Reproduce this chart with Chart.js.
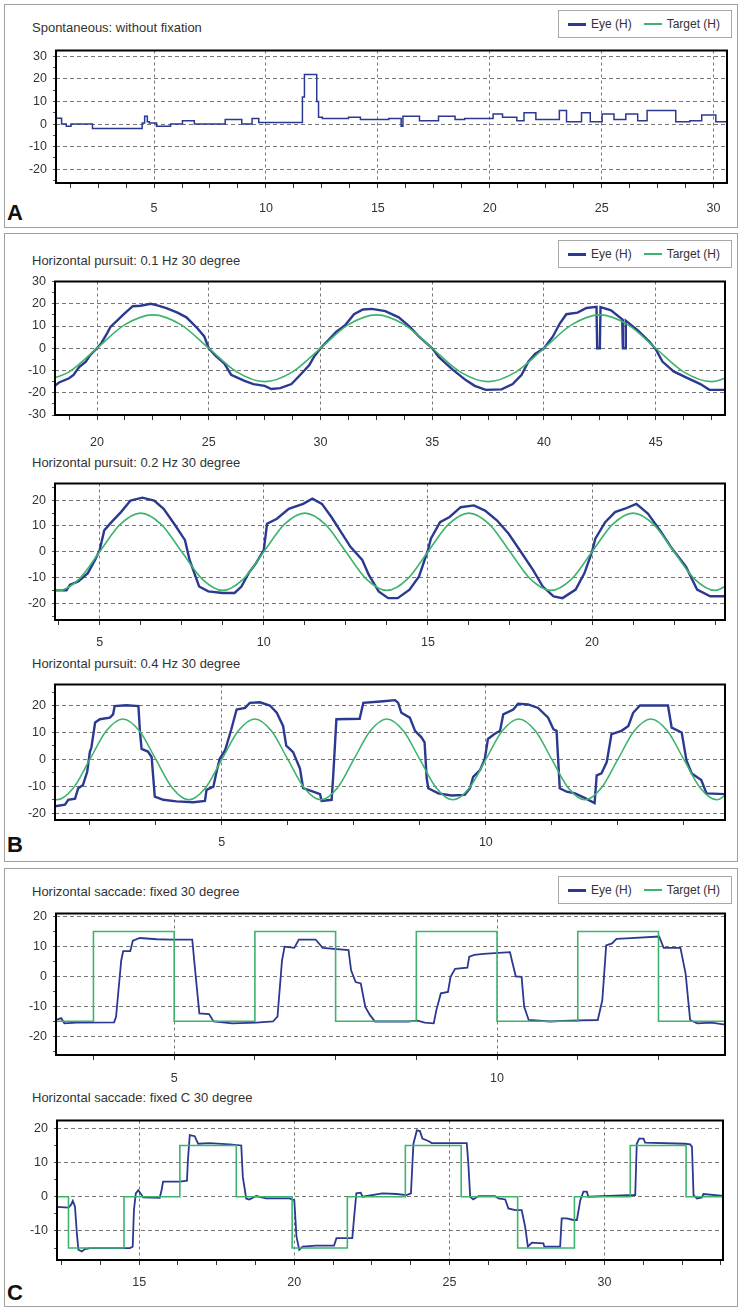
<!DOCTYPE html>
<html>
<head>
<meta charset="utf-8">
<script src="https://cdn.jsdelivr.net/npm/chart.js@4.4.1/dist/chart.umd.min.js"></script>
<style>
  body { margin: 0; width: 742px; height: 1309px; position: relative; background: #fff;
         font-family: "Liberation Sans", Arial, sans-serif; color: #333; overflow: hidden; }
  .panel { position: absolute; left: 4px; width: 732px; border: 1px solid #a0a0a0; }
  .title { position: absolute; left: 32px; font-size: 13px; line-height: 14px; color: #333; }
  .legend { position: absolute; left: 558px; width: 172px; height: 26px; border: 1px solid #a8a8a8;
            font-size: 12px; display: flex; align-items: center; background: #fff; color: #333; }
  .sw { display: inline-block; width: 18px; margin: 0 5px 0 9px; }
  .eye { height: 3px; background: #2b3990; }
  .tgt { height: 2px; background: #3db36d; margin-left: 12px; }
  .letter { position: absolute; left: 7px; font: bold 22px "Liberation Sans", Arial, sans-serif; color: #111; line-height: 24px; }
  canvas { position: absolute; left: 0; }
</style>
</head>
<body>
<div class="panel" style="top:4px;height:222px"></div>
<div class="panel" style="top:233px;height:627px"></div>
<div class="panel" style="top:868px;height:437px"></div>

<div class="title" style="top:21px">Spontaneous: without fixation</div>
<div class="title" style="top:254px">Horizontal pursuit: 0.1 Hz 30 degree</div>
<div class="title" style="top:456px">Horizontal pursuit: 0.2 Hz 30 degree</div>
<div class="title" style="top:657px">Horizontal pursuit: 0.4 Hz 30 degree</div>
<div class="title" style="top:885px">Horizontal saccade: fixed 30 degree</div>
<div class="title" style="top:1091px">Horizontal saccade: fixed C 30 degree</div>

<div class="legend" style="top:10px"><span class="sw eye"></span>Eye (H)<span class="sw tgt"></span>Target (H)</div>
<div class="legend" style="top:240px"><span class="sw eye"></span>Eye (H)<span class="sw tgt"></span>Target (H)</div>
<div class="legend" style="top:876px"><span class="sw eye"></span>Eye (H)<span class="sw tgt"></span>Target (H)</div>

<div class="letter" style="top:201px">A</div>
<div class="letter" style="top:833px">B</div>
<div class="letter" style="top:1281px">C</div>

<script>
// x tick labels per chart
const xLabelsA = [5, 10, 15, 20, 25, 30];
const xLabelsB1 = [20, 25, 30, 35, 40, 45];
const xLabelsB2 = [5, 10, 15, 20];
const xLabelsB3 = [5, 10];
const xLabelsC1 = [5, 10];
const xLabelsC2 = [15, 20, 25, 30];

// y tick labels per chart
const yLabelsA = [-20, -10, 0, 10, 20, 30];
const yLabelsB1 = [-30, -20, -10, 0, 10, 20, 30];
const yLabelsB2 = [-20, -10, 0, 10, 20];
const yLabelsB3 = [-20, -10, 0, 10, 20];
const yLabelsC1 = [-20, -10, 0, 10, 20];
const yLabelsC2 = [-10, 0, 10, 20];

// A: spontaneous, eye position (level starts, stepped)
const spontEye = [
  [0.61, 2.6], [0.87, 0], [1.08, -1], [1.29, 0], [2.25, -2], [4.47, 0.5], [4.58, 3.5], [4.7, 1],
  [4.79, 0.5], [5.11, -1], [5.74, 0], [6.27, 1.5], [6.8, 0], [8.18, 2], [8.92, 0], [9.38, 2.5],
  [9.68, 0.7], [11.63, 12], [11.72, 22], [12.27, 10], [12.35, 3], [12.52, 2.5], [13.69, 3],
  [14.22, 2], [15.49, 2.5], [16.04, -1], [16.12, 3.5], [16.86, 1.5], [17.71, 3.5], [18.45, 2],
  [18.88, 2.5], [20.15, 4.5], [20.57, 3], [21.21, 1.5], [21.53, 5], [22.06, 2], [23.11, 6],
  [23.43, 1], [24.1, 5], [24.49, 1], [25.02, 4.5], [25.55, 2], [26.08, 4.5], [26.61, 1.5],
  [27.03, 6], [28.31, 1], [28.94, 1.5], [29.47, 4], [30.1, 1], [30.63, 1]
];

// B1: pursuit 0.1 Hz
const pursuit1Eye = [
  [18.1, -17], [18.3, -15.4], [18.75, -13.5], [18.95, -12], [19.2, -8.5], [19.5, -6], [19.7, -3],
  [20, 0], [20.2, 2.4], [20.45, 6.7], [20.6, 9.6], [20.9, 12.4], [21.2, 15.3], [21.6, 18.9],
  [21.95, 19.1], [22.4, 20], [22.7, 19.3], [23.1, 18], [23.6, 16], [24.0, 13.9], [24.5, 8.9],
  [24.8, 5.3], [25.0, 0], [25.3, -3.3], [25.7, -6.9], [26.0, -11.9], [26.6, -14.7], [27.0, -16.1],
  [27.5, -16.9], [27.8, -18.3], [28.2, -17.9], [28.7, -16.1], [29.1, -11.9], [29.5, -7.6],
  [29.7, -4], [30.0, 0], [30.3, 3.1], [30.7, 7.4], [31.1, 10.3], [31.5, 15.3], [31.9, 17.4],
  [32.3, 17.7], [32.9, 16.7], [33.5, 13.9], [34.0, 9.6], [34.4, 5.3], [35, 0], [35.3, -4],
  [35.9, -9.5], [36.5, -14.3], [36.9, -16.9], [37.4, -18.7], [38.1, -18.5], [38.6, -16.1],
  [39.0, -11.9], [39.3, -6], [39.6, -2.6], [40, 0], [40.4, 5.3], [40.7, 11], [41.0, 15.3],
  [41.5, 16], [41.9, 18.1], [42.35, 18.6], [42.38, 0], [42.5, 0], [42.53, 18.5], [43.0, 17],
  [43.5, 13], [43.53, 0], [43.63, 0], [43.66, 12.4], [44.2, 8], [44.7, 3.1], [45.0, -0.4],
  [45.3, -6], [45.8, -10.4], [46.4, -13.3], [47.0, -16.1], [47.4, -18.7], [48.1, -18.7]
];
const pursuit1Target = [
  [17.5, -15], [18.75, -10.6], [20, 0], [21.25, 10.6], [22.5, 15], [23.75, 10.6], [25, 0],
  [26.25, -10.6], [27.5, -15], [28.75, -10.6], [30, 0], [31.25, 10.6], [32.5, 15], [33.75, 10.6],
  [35, 0], [36.25, -10.6], [37.5, -15], [38.75, -10.6], [40, 0], [41.25, 10.6], [42.5, 15],
  [43.75, 10.6], [45, 0], [46.25, -10.6], [47.5, -15], [48.75, -10.6]
];

// B2: pursuit 0.2 Hz
const pursuit2Eye = [
  [3.6, -15], [3.99, -15], [4.1, -12.8], [4.35, -11.5], [4.64, -8.3], [4.86, -3.2], [5.0, 0.6],
  [5.14, 8.3], [5.36, 11.5], [5.65, 15.4], [5.94, 19.9], [6.3, 21], [6.66, 19.9], [6.95, 16.7],
  [7.3, 10.3], [7.6, 4.5], [7.74, -3.2], [8.03, -13.5], [8.31, -15.4], [8.75, -16], [9.11, -16],
  [9.32, -13.5], [9.54, -8.3], [9.76, -4.5], [10.0, 0.6], [10.1, 10.9], [10.4, 12.8],
  [10.76, 16.7], [11.2, 18.6], [11.48, 20.6], [11.77, 18.6], [12.06, 13.5], [12.35, 7.7],
  [12.64, 1.9], [13.0, -3.2], [13.2, -9], [13.5, -15.4], [13.79, -18], [14.08, -18],
  [14.44, -14.7], [14.73, -9.6], [15.0, 0.6], [15.09, 5.1], [15.37, 11.5], [15.66, 13.5],
  [16.0, 17.3], [16.4, 18], [16.74, 16], [17.1, 12.2], [17.46, 7], [17.8, 0.6], [18.2, -7],
  [18.5, -13.5], [18.83, -17.3], [19.1, -18], [19.5, -14.7], [19.77, -8.3], [20.0, 0],
  [20.1, 5.1], [20.4, 11.5], [20.7, 15.4], [21.0, 16.7], [21.35, 18.6], [21.7, 14.8],
  [22.07, 8.3], [22.4, 1.9], [22.86, -5.8], [23.2, -14.7], [23.6, -17.3], [24.1, -17.3]
];
const pursuit2Target = [
  [3.125, -10.6], [3.75, -15], [4.375, -10.6], [5, 0], [5.625, 10.6], [6.25, 15], [6.875, 10.6],
  [7.5, 0], [8.125, -10.6], [8.75, -15], [9.375, -10.6], [10, 0], [10.625, 10.6], [11.25, 15],
  [11.875, 10.6], [12.5, 0], [13.125, -10.6], [13.75, -15], [14.375, -10.6], [15, 0],
  [15.625, 10.6], [16.25, 15], [16.875, 10.6], [17.5, 0], [18.125, -10.6], [18.75, -15],
  [19.375, -10.6], [20, 0], [20.625, 10.6], [21.25, 15], [21.875, 10.6], [22.5, 0],
  [23.125, -10.6], [23.75, -15], [24.375, -10.6]
];

// B3: pursuit 0.4 Hz
const pursuit3Eye = [
  [1.84, -17.4], [2.03, -16.8], [2.09, -15], [2.22, -14.6], [2.28, -10.7], [2.37, -9.5],
  [2.45, -4.6], [2.5, 2.7], [2.53, 4.5], [2.6, 13.7], [2.69, 14.9], [2.88, 15.5], [2.94, 16.7],
  [2.97, 19.8], [3.19, 20.1], [3.42, 19.8], [3.45, 10], [3.48, 3.9], [3.6, 2.9], [3.67, 0.9],
  [3.73, -13.8], [3.89, -15], [4.14, -15.6], [4.46, -15.9], [4.68, -15.4], [4.71, -11.3],
  [4.84, -10.1], [4.9, -4.6], [4.96, 0.2], [5.06, 3.3], [5.18, 11.2], [5.28, 18.5], [5.44, 19.1],
  [5.53, 21], [5.72, 21.2], [5.91, 20], [6.04, 17.3], [6.16, 12.4], [6.22, 5.1], [6.35, 2.7],
  [6.48, -3.4], [6.54, -10.7], [6.73, -12], [6.86, -12.9], [6.89, -15.4], [7.08, -15],
  [7.11, -5.9], [7.17, 14.9], [7.61, 15.1], [7.68, 21], [8.06, 21.6], [8.28, 22], [8.34, 21],
  [8.4, 17.3], [8.56, 15.5], [8.66, 10.6], [8.78, 8.2], [8.84, 6.3], [8.88, -7], [8.91, -10.7],
  [9.1, -12.6], [9.35, -13.4], [9.6, -13.2], [9.7, -10.7], [9.76, -6.5], [9.89, -4],
  [9.98, 0.2], [10.04, 7.6], [10.17, 9.5], [10.27, 10.6], [10.33, 16.7], [10.52, 18.5],
  [10.61, 20.7], [10.8, 20.4], [10.99, 19.1], [11.18, 15.5], [11.28, 11.2], [11.34, 10.6],
  [11.4, -10.7], [11.53, -12], [11.69, -12.6], [11.88, -14.4], [12.06, -16.2], [12.1, -5.9],
  [12.19, -5.2], [12.29, -1], [12.38, 9.4], [12.57, 10.6], [12.7, 12.4], [12.79, 17.3],
  [12.92, 20], [13.45, 20], [13.52, 11.8], [13.71, 10], [13.8, -0.4], [13.9, -5.2],
  [14.08, -7.7], [14.18, -12.6], [14.55, -12.9]
];
const pursuit3Target = [
  [1.5625, -10.6], [1.875, -15], [2.1875, -10.6], [2.5, 0], [2.8125, 10.6], [3.125, 15],
  [3.4375, 10.6], [3.75, 0], [4.0625, -10.6], [4.375, -15], [4.6875, -10.6], [5, 0],
  [5.3125, 10.6], [5.625, 15], [5.9375, 10.6], [6.25, 0], [6.5625, -10.6], [6.875, -15],
  [7.1875, -10.6], [7.5, 0], [7.8125, 10.6], [8.125, 15], [8.4375, 10.6], [8.75, 0],
  [9.0625, -10.6], [9.375, -15], [9.6875, -10.6], [10, 0], [10.3125, 10.6], [10.625, 15],
  [10.9375, 10.6], [11.25, 0], [11.5625, -10.6], [11.875, -15], [12.1875, -10.6], [12.5, 0],
  [12.8125, 10.6], [13.125, 15], [13.4375, 10.6], [13.75, 0], [14.0625, -10.6], [14.375, -15],
  [14.6875, -10.6]
];

// C1: saccade fixed 30 degree
const saccade1Eye = [
  [3.17, -14.6], [3.25, -14], [3.3, -15.7], [3.48, -15.5], [4.07, -15.4], [4.1, -13.5],
  [4.18, 5.3], [4.21, 8.4], [4.32, 8.4], [4.36, 11.9], [4.47, 12.8], [4.73, 12.4], [4.95, 12.3],
  [5.28, 12.3], [5.32, 3.1], [5.39, -12.4], [5.54, -12.6], [5.61, -15.1], [5.9, -15.7],
  [6.27, -15.5], [6.53, -15.1], [6.6, -13.5], [6.67, 5.3], [6.71, 9.9], [6.86, 9.5], [6.93, 12.3],
  [7.19, 12.3], [7.3, 9.5], [7.7, 8.8], [7.74, 2], [7.81, -1.9], [7.89, -2.4], [7.96, -10.2],
  [8.03, -12.9], [8.11, -15.1], [8.62, -15.1], [8.77, -14.8], [8.88, -15.5], [9.02, -15.7],
  [9.06, -11.3], [9.13, -5.7], [9.24, -5.2], [9.28, -0.2], [9.35, 2.5], [9.54, 2.9], [9.57, 6.6],
  [9.65, 7.2], [9.79, 7.5], [10.2, 8.1], [10.23, 5.3], [10.29, 0], [10.38, -0.2], [10.42, -10.2],
  [10.49, -14.6], [10.82, -15.1], [11.12, -14.8], [11.56, -14.6], [11.63, -8], [11.69, 10.3],
  [11.78, 11], [11.85, 12.5], [12.07, 12.8], [12.51, 13.3], [12.58, 9.5], [12.84, 9.5],
  [12.92, 0.9], [12.99, -14.6], [13.1, -15.7], [13.32, -15.5], [13.54, -16.2]
];
const saccade1Target = [
  [3.17, -15], [3.75, 15], [5.0, -15], [6.25, 15], [7.5, -15], [8.75, 15], [10.0, -15],
  [11.25, 15], [12.5, -15], [13.6, -15]
];

// C2: saccade fixed C 30 degree
const saccade2Eye = [
  [12.3, -2.9], [12.72, -3.2], [12.8, -2.4], [12.86, -1.2], [12.93, -2.9], [12.99, -10.7],
  [13.04, -15.5], [13.15, -16], [13.25, -15.3], [13.42, -15], [14.7, -15], [14.79, -14.6],
  [14.83, -3.9], [14.89, 1], [14.97, 1.9], [15.04, 1], [15.13, -0.2], [15.66, -0.3], [15.72, 1.9],
  [15.77, 4.4], [16.31, 4.4], [16.54, 4.7], [16.57, 10.7], [16.63, 18], [16.79, 17.7],
  [16.9, 15.5], [17.27, 15.7], [17.91, 15.3], [18.29, 15], [18.34, 5.8], [18.45, -0.5],
  [18.55, -0.8], [18.77, 0.2], [19.09, -0.5], [19.84, -0.5], [20.0, -1], [20.07, -11.7],
  [20.16, -15.5], [20.27, -14.6], [20.7, -14.3], [21.28, -14.3], [21.36, -12.1], [21.87, -12.1],
  [21.93, -5.8], [22.0, 1], [22.14, 1.2], [22.2, 0], [22.84, 1], [23.3, 0.8], [23.62, 0.5],
  [23.76, 1], [23.84, 15.5], [23.95, 19.4], [24.05, 19.2], [24.13, 17], [24.32, 16.3],
  [24.43, 15.7], [25.56, 15.7], [25.61, 9.7], [25.67, 0], [25.77, -0.8], [25.94, 0.2],
  [26.47, 0.2], [26.58, -0.5], [26.8, -0.8], [26.9, -3.4], [27.12, -3.9], [27.33, -3.9],
  [27.44, -8.7], [27.53, -14.6], [27.66, -13.4], [28.03, -13.6], [28.06, -14.6], [28.57, -14.6],
  [28.62, -6.3], [28.78, -6.3], [29.0, -6.8], [29.11, -6.8], [29.22, -1], [29.32, 1.5],
  [29.43, 1.5], [29.48, 0], [29.91, 0.2], [30.77, 0.5], [30.99, 0.5], [31.04, 15.5], [31.12, 17],
  [31.26, 17], [31.31, 15.8], [32.6, 15.5], [32.76, 15.3], [32.82, 14.6], [32.87, 0.5],
  [32.98, -0.5], [33.14, -0.2], [33.19, 0.8], [33.85, 0.2]
];
const saccade2Target = [
  [12.3, 0], [12.72, -15], [14.51, 0], [16.31, 15], [18.13, 0], [19.93, -15], [21.71, 0],
  [23.58, 15], [25.38, 0], [27.2, -15], [29.03, 0], [30.83, 15], [32.63, 0], [33.9, 0]
];

const EYE = '#2b3990';
const TARGET = '#3db36d';
const GRID = '#777';
const PAD_TOP = 12;
const AXIS_H = 32;
Chart.defaults.font.family = '"Liberation Sans", Arial, sans-serif';

const framePlugin = {
  id: 'frame',
  afterDatasetsDraw(chart) {
    const { ctx, chartArea: a } = chart;
    ctx.save();
    ctx.strokeStyle = '#000';
    ctx.lineWidth = 2;
    ctx.strokeRect(a.left, a.top, a.right - a.left, a.bottom - a.top);
    ctx.restore();
  }
};

const isMajor = (list, v) => list.some(m => Math.abs(m - v) < 1e-6);
const stepTicks = (min, max, step) => {
  const out = [];
  for (let v = Math.ceil(min / step - 1e-9) * step; v <= max + 1e-9; v += step) {
    out.push({ value: Math.round(v * 1000) / 1000 });
  }
  return out;
};

function makeChart(cfg) {
  const cv = document.createElement('canvas');
  cv.width = 742;
  cv.height = PAD_TOP + (cfg.box.bottom - cfg.box.top) + AXIS_H;
  cv.style.top = (cfg.box.top - PAD_TOP) + 'px';
  document.body.appendChild(cv);

  const datasets = cfg.series.map(s => ({
    data: s.points.map(([x, y]) => ({ x, y })),
    borderColor: s.color,
    borderWidth: s.width,
    pointRadius: 0,
    stepped: s.stepped || false,
    cubicInterpolationMode: s.smooth ? 'monotone' : 'default',
    tension: 0,
    fill: false
  }));

  new Chart(cv, {
    type: 'line',
    data: { datasets },
    options: {
      responsive: false,
      animation: false,
      events: [],
      layout: { padding: { top: PAD_TOP, left: 0, right: 742 - cfg.box.right, bottom: 0 } },
      plugins: { legend: { display: false }, tooltip: { enabled: false } },
      scales: {
        x: {
          type: 'linear', min: cfg.x[0], max: cfg.x[1],
          afterBuildTicks: s => { s.ticks = stepTicks(cfg.x[0], cfg.x[1], 1.25); },
          afterFit: s => { s.height = AXIS_H; },
          grid: {
            color: c => (c.tick && isMajor(cfg.xLabels, c.tick.value)) ? GRID : 'rgba(0,0,0,0)',
            tickColor: '#333', tickLength: 5, lineWidth: 1
          },
          border: { display: false, dash: [3, 3] },
          ticks: {
            autoSkip: false, maxRotation: 0, padding: cfg.labelPad, color: '#333',
            font: { size: 12.5 },
            callback: v => isMajor(cfg.xLabels, v) ? String(v) : ''
          }
        },
        y: {
          min: cfg.y[0], max: cfg.y[1],
          afterBuildTicks: s => { s.ticks = stepTicks(cfg.y[0], cfg.y[1], 5); },
          afterFit: s => { s.width = cfg.box.left; },
          grid: {
            color: c => (c.tick && isMajor(cfg.yLabels, c.tick.value)) ? GRID : 'rgba(0,0,0,0)',
            tickColor: '#555', tickLength: 3, lineWidth: 1
          },
          border: { display: false, dash: [4, 3] },
          ticks: {
            autoSkip: false, padding: 6, color: '#333', font: { size: 12.5 },
            callback: v => isMajor(cfg.yLabels, v) ? String(v) : ''
          }
        }
      }
    },
    plugins: [framePlugin]
  });
}

makeChart({
  box: { left: 56, top: 49, right: 727, bottom: 183 }, x: [0.62, 30.6], y: [-26.1, 32.6],
  xLabels: xLabelsA, yLabels: yLabelsA, labelPad: 13,
  series: [{ points: spontEye, color: EYE, width: 1.5, stepped: true }]
});
makeChart({
  box: { left: 55, top: 280, right: 725, bottom: 415 }, x: [18.12, 48.1], y: [-30, 30],
  xLabels: xLabelsB1, yLabels: yLabelsB1, labelPad: 15,
  series: [
    { points: pursuit1Target, color: TARGET, width: 1.6, smooth: true },
    { points: pursuit1Eye, color: EYE, width: 2.4 }
  ]
});
makeChart({
  box: { left: 55, top: 482, right: 725, bottom: 620 }, x: [3.64, 24.05], y: [-26.5, 26.5],
  xLabels: xLabelsB2, yLabels: yLabelsB2, labelPad: 10,
  series: [
    { points: pursuit2Target, color: TARGET, width: 1.6, smooth: true },
    { points: pursuit2Eye, color: EYE, width: 2.4 }
  ]
});
makeChart({
  box: { left: 55, top: 683, right: 725, bottom: 820 }, x: [1.84, 14.53], y: [-22.5, 27.8],
  xLabels: xLabelsB3, yLabels: yLabelsB3, labelPad: 10,
  series: [
    { points: pursuit3Target, color: TARGET, width: 1.6, smooth: true },
    { points: pursuit3Eye, color: EYE, width: 2.4 }
  ]
});
makeChart({
  box: { left: 56, top: 912, right: 725, bottom: 1055 }, x: [3.17, 13.53], y: [-26.3, 21],
  xLabels: xLabelsC1, yLabels: yLabelsC1, labelPad: 11,
  series: [
    { points: saccade1Target, color: TARGET, width: 1.6, stepped: true },
    { points: saccade1Eye, color: EYE, width: 1.8 }
  ]
});
makeChart({
  box: { left: 57, top: 1119, right: 723, bottom: 1260 }, x: [12.35, 33.82], y: [-18.5, 22.3],
  xLabels: xLabelsC2, yLabels: yLabelsC2, labelPad: 10,
  series: [
    { points: saccade2Target, color: TARGET, width: 1.6, stepped: true },
    { points: saccade2Eye, color: EYE, width: 1.8 }
  ]
});
</script>
</body>
</html>
